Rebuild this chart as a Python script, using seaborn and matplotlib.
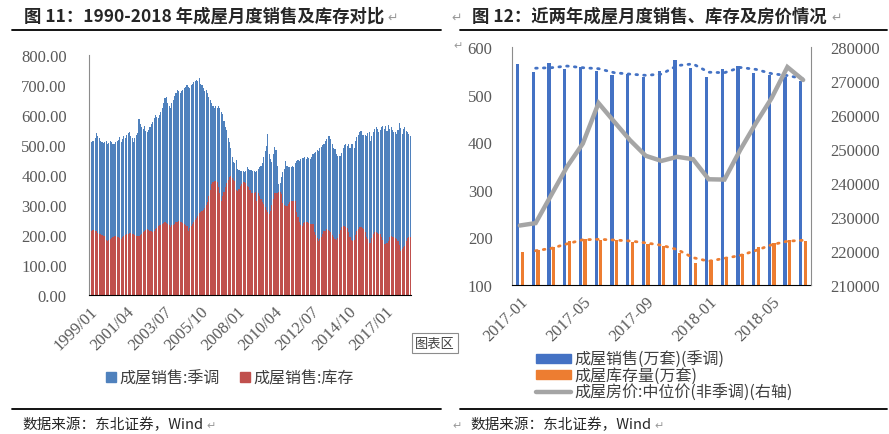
import numpy as np
import pandas as pd
import matplotlib
matplotlib.use("Agg")
import matplotlib.pyplot as plt
from matplotlib.patches import Patch
from matplotlib.lines import Line2D
import seaborn as sns

# ---------------- data: left panel (monthly, 1999/01 - 2018/07) ----------------
sales_sa = [
    520, 510, 515, 512, 525, 539, 530, 522, 512, 510, 508, 510,   # 1999
    512, 505, 508, 515, 510, 505, 502, 510, 515, 518, 528, 510,   # 2000
    520, 530, 525, 535, 540, 544, 530, 525, 510, 525, 535, 540,   # 2001
    587, 570, 560, 555, 562, 548, 544, 550, 560, 570, 578, 590,   # 2002
    600, 595, 590, 600, 610, 625, 640, 656, 660, 640, 630, 625,   # 2003
    640, 650, 665, 675, 685, 680, 675, 680, 685, 690, 695, 700,   # 2004
    695, 690, 700, 705, 710, 715, 718, 715, 722, 705, 700, 690,   # 2005
    680, 685, 675, 660, 650, 640, 630, 625, 630, 625, 630, 625,   # 2006
    610, 605, 580, 560, 550, 525, 510, 490, 460, 445, 440, 450,   # 2007
    420, 418, 415, 412, 415, 410, 412, 426, 420, 418, 418, 414,   # 2008
    414, 410, 415, 420, 426, 431, 440, 460, 480, 498, 537, 470,   # 2009
    453, 444, 470, 493, 482, 430, 370, 373, 395, 410, 420, 448,   # 2010
    430, 428, 426, 428, 430, 426, 441, 448, 450, 448, 452, 457,   # 2011
    457, 460, 455, 460, 458, 455, 460, 470, 475, 478, 485, 481,   # 2012
    490, 495, 500, 505, 515, 520, 531, 530, 520, 505, 490, 487,   # 2013
    470, 463, 462, 465, 475, 490, 500, 503, 496, 503, 490, 505,   # 2014
    505, 490, 515, 526, 535, 542, 548, 535, 532, 535, 531, 540,   # 2015
    545, 514, 530, 542, 553, 559, 553, 542, 550, 559, 564, 555,   # 2016
    564, 547, 566, 554, 559, 550, 542, 544, 537, 549, 573, 556,   # 2017
    538, 554, 560, 546, 542, 538, 529,                            # 2018
]
inventory = [
    210, 214, 216, 218, 215, 212, 208, 205, 203, 200, 198, 196,   # 1999
    185, 180, 182, 186, 190, 195, 198, 196, 195, 193, 190, 188,   # 2000
    195, 198, 200, 203, 205, 208, 206, 204, 202, 200, 198, 196,   # 2001
    198, 200, 205, 210, 215, 218, 220, 218, 215, 212, 210, 215,   # 2002
    220, 225, 230, 232, 235, 238, 240, 242, 240, 236, 232, 228,   # 2003
    232, 235, 238, 242, 245, 248, 245, 242, 240, 236, 232, 230,   # 2004
    215, 222, 230, 238, 245, 250, 258, 265, 272, 278, 280, 282,   # 2005
    290, 300, 310, 330, 350, 370, 378, 381, 380, 378, 360, 340,   # 2006
    314, 330, 343, 360, 375, 385, 395, 398, 390, 385, 381, 350,   # 2007
    348, 355, 365, 370, 376, 378, 375, 364, 359, 350, 340, 339,   # 2008
    340, 345, 314, 340, 331, 320, 310, 305, 295, 285, 276, 270,   # 2009
    280, 300, 320, 340, 340, 340, 343, 342, 338, 307, 300, 297,   # 2010
    297, 305, 310, 312, 314, 314, 312, 276, 260, 245, 235, 231,   # 2011
    240, 242, 242, 242, 240, 238, 238, 236, 210, 200, 190, 181,   # 2012
    187, 195, 205, 214, 215, 220, 216, 214, 210, 200, 192, 187,   # 2013
    185, 190, 205, 218, 226, 230, 230, 228, 225, 210, 195, 185,   # 2014
    180, 185, 200, 215, 220, 226, 226, 224, 220, 210, 195, 187,   # 2015
    175, 172, 190, 205, 210, 210, 208, 205, 203, 195, 185, 170,   # 2016
    170, 174, 180, 193, 197, 195, 194, 191, 186, 181, 168, 147,   # 2017
    153, 159, 165, 180, 189, 195, 193,                            # 2018
]
months_left = list(pd.date_range("1999-01-01", periods=len(sales_sa), freq="MS").strftime("%Y/%m"))
left_tick_labels = ["1999/01", "2001/04", "2003/07", "2005/10", "2008/01",
                    "2010/04", "2012/07", "2014/10", "2017/01"]

# ---------------- data: right panel (2017-01 - 2018-07) ----------------
months_right = list(pd.date_range("2017-01-01", periods=19, freq="MS").strftime("%Y-%m"))
sales_right = [564, 547, 566, 554, 559, 550, 542, 544, 537, 549,
               573, 556, 538, 554, 560, 546, 542, 538, 529]
inventory_right = [170, 174, 180, 193, 197, 195, 194, 191, 186, 181,
                   168, 147, 153, 159, 165, 180, 189, 195, 193]
median_price = [227500, 228200, 236500, 244800, 251600, 263500, 258000, 252600, 248000, 246500,
                247700, 247000, 241100, 241000, 249700, 257600, 265000, 274100, 270300]
right_tick_labels = ["2017-01", "2017-05", "2017-09", "2018-01", "2018-05"]

lab_sales_l = "成屋销售:季调"
lab_inv_l = "成屋销售:库存"
lab_sales_r = "成屋销售(万套)(季调)"
lab_inv_r = "成屋库存量(万套)"
lab_price_r = "成屋房价:中位价(非季调)(右轴)"

# ---------------- style ----------------
sns.set_style("white")
plt.rcParams["font.family"] = ["Noto Sans CJK SC", "DejaVu Sans"]
NUM_FONT = "Liberation Serif"
TICK_C = "#595959"
AX_C = "#8c8c8c"

W, H = 889, 435
fig = plt.figure(figsize=(W / 100, H / 100), dpi=100)


def fx(px):
    return px / W


def fy(py):
    return 1 - py / H


# ================= left panel =================
BLUE_L, RED_L = "#4F81BD", "#C0504D"
axL = fig.add_axes([fx(89), fy(296), fx(411 - 89), (296 - 56) / H])
dfL = pd.DataFrame({"month": months_left, "sales": sales_sa, "inv": inventory})
sns.barplot(data=dfL, x="month", y="sales", color=BLUE_L, saturation=1, width=0.8,
            linewidth=0, errorbar=None, ax=axL)
sns.barplot(data=dfL, x="month", y="inv", color=RED_L, saturation=1, width=0.8,
            linewidth=0, errorbar=None, ax=axL)
n = len(months_left)
axL.set_xlim(-0.5, n - 0.5)
axL.set_ylim(0, 800)
axL.set_xlabel("")
axL.set_ylabel("")
yt = np.arange(0, 801, 100)
axL.set_yticks(yt)
axL.set_yticklabels([f"{v:.2f}" for v in yt], fontfamily=NUM_FONT, fontsize=12, color=TICK_C)
pos_l = [months_left.index(t) for t in left_tick_labels]
axL.set_xticks(pos_l)
axL.set_xticklabels(left_tick_labels, rotation=45, ha="right", va="top",
                    rotation_mode="anchor", fontfamily=NUM_FONT, fontsize=12, color=TICK_C)
axL.set_xticks([p - 0.5 for p in pos_l], minor=True)
axL.tick_params(axis="x", which="major", length=0, pad=6)
axL.tick_params(axis="x", which="minor", length=5, width=1, color="black", direction="out")
axL.tick_params(axis="y", length=0, pad=16)
for s in ["top", "right"]:
    axL.spines[s].set_visible(False)
axL.spines["left"].set_color(AX_C)
axL.spines["bottom"].set_color("black")

fig.legend(handles=[Patch(color=BLUE_L, label=lab_sales_l), Patch(color=RED_L, label=lab_inv_l)],
           loc="center", bbox_to_anchor=(fx(230), fy(379)), ncol=2, frameon=False,
           handlelength=0.6, handleheight=0.6, handletextpad=0.2, columnspacing=1.3,
           fontsize=11.5, labelcolor="#404040")

# ================= right panel =================
BLUE_R, ORANGE_R, GREY_R = "#4472C4", "#ED7D31", "#A5A5A5"
axR = fig.add_axes([fx(512), fy(286), fx(811 - 512), (286 - 48) / H])
dfR = pd.DataFrame({
    "month": months_right * 2,
    "value": sales_right + inventory_right,
    "series": [lab_sales_r] * len(months_right) + [lab_inv_r] * len(months_right),
})
sns.barplot(data=dfR, x="month", y="value", hue="series", palette=[BLUE_R, ORANGE_R],
            saturation=1, width=0.58, gap=0.28, linewidth=0, errorbar=None, ax=axR, legend=False)
xr = np.arange(len(months_right))
trend_sales = pd.Series(sales_right).rolling(2).mean()
trend_inv = pd.Series(inventory_right).rolling(2).mean()
sns.lineplot(x=xr, y=trend_sales, color=BLUE_R, lw=2, linestyle=(0, (0.6, 2.2)),
             dash_capstyle="round", ax=axR)
sns.lineplot(x=xr, y=trend_inv, color=ORANGE_R, lw=2, linestyle=(0, (0.6, 2.2)),
             dash_capstyle="round", ax=axR)
axR.set_xlim(-0.5, len(months_right) - 0.5)
axR.set_ylim(100, 600)
axR.set_xlabel("")
axR.set_ylabel("")
ytR = np.arange(100, 601, 100)
axR.set_yticks(ytR)
axR.set_yticklabels([str(v) for v in ytR], fontfamily=NUM_FONT, fontsize=12, color=TICK_C)
pos_r = [months_right.index(t) for t in right_tick_labels]
axR.set_xticks(pos_r)
axR.set_xticklabels(right_tick_labels, rotation=45, ha="right", va="top",
                    rotation_mode="anchor", fontfamily=NUM_FONT, fontsize=12, color=TICK_C)
axR.set_xticks([p - 0.5 for p in pos_r], minor=True)
axR.tick_params(axis="x", which="major", length=0, pad=6)
axR.tick_params(axis="x", which="minor", length=5, width=1, color="black", direction="out")
axR.tick_params(axis="y", length=0, pad=14)
axR.spines["top"].set_visible(False)
axR.spines["right"].set_visible(False)
axR.spines["left"].set_color(AX_C)
axR.spines["bottom"].set_color("black")

ax2 = axR.twinx()
sns.lineplot(x=xr, y=median_price, color=GREY_R, lw=3.2, ax=ax2, solid_joinstyle="miter")
ax2.set_ylim(210000, 280000)
yt2 = np.arange(210000, 280001, 10000)
ax2.set_yticks(yt2)
ax2.set_yticklabels([str(v) for v in yt2], fontfamily=NUM_FONT, fontsize=12, color=TICK_C)
ax2.tick_params(axis="y", length=0, pad=14)
ax2.set_ylabel("")
for s in ["top", "left", "bottom"]:
    ax2.spines[s].set_visible(False)
ax2.spines["right"].set_color(AX_C)

fig.legend(handles=[Patch(color=BLUE_R, label=lab_sales_r),
                    Patch(color=ORANGE_R, label=lab_inv_r),
                    Line2D([], [], color=GREY_R, lw=3.2, label=lab_price_r)],
           loc="upper left", bbox_to_anchor=(fx(536), fy(352)), frameon=False,
           handlelength=2.2, handleheight=0.5, handletextpad=0.2, labelspacing=-0.05,
           borderpad=0, borderaxespad=0, fontsize=11.5, labelcolor="#404040")

# ================= titles, rules, sources =================
RET = "#9a9a9a"
fig.text(fx(24), fy(17), "图 11：1990-2018 年成屋月度销售及库存对比", fontsize=12.5,
         fontweight="bold", va="center", ha="left")
fig.text(fx(387), fy(18), "↵", fontsize=9, color=RET, va="center", ha="left")
fig.text(fx(451), fy(18), "↵", fontsize=9, color=RET, va="center", ha="left")
fig.text(fx(472), fy(17), "图 12：近两年成屋月度销售、库存及房价情况", fontsize=12.5,
         fontweight="bold", va="center", ha="left")
fig.text(fx(831), fy(18), "↵", fontsize=9, color=RET, va="center", ha="left")
fig.text(fx(453), fy(46), "↵", fontsize=8, color=RET, va="center", ha="left")

for x0, x1 in [(12, 441), (460, 887)]:
    fig.add_artist(Line2D([fx(x0), fx(x1)], [fy(30.5), fy(30.5)], color="black", lw=1.3))
    fig.add_artist(Line2D([fx(x0), fx(x1)], [fy(410), fy(410)], color="black", lw=1.3))

fig.text(fx(22), fy(425), "数据来源：东北证券，Wind", fontsize=10.5, va="center", ha="left")
fig.text(fx(206), fy(426), "↵", fontsize=8, color=RET, va="center", ha="left")
fig.text(fx(452), fy(426), "↵", fontsize=8, color=RET, va="center", ha="left")
fig.text(fx(470), fy(425), "数据来源：东北证券，Wind", fontsize=10.5, va="center", ha="left")
fig.text(fx(654), fy(426), "↵", fontsize=8, color=RET, va="center", ha="left")

fig.text(fx(415), fy(344), "图表区", fontsize=9.5, va="center", ha="left", color="#404040",
         bbox=dict(boxstyle="square,pad=0.25", fc="white", ec="#8c8c8c", lw=0.8))

fig.savefig("out.png", dpi=100)
